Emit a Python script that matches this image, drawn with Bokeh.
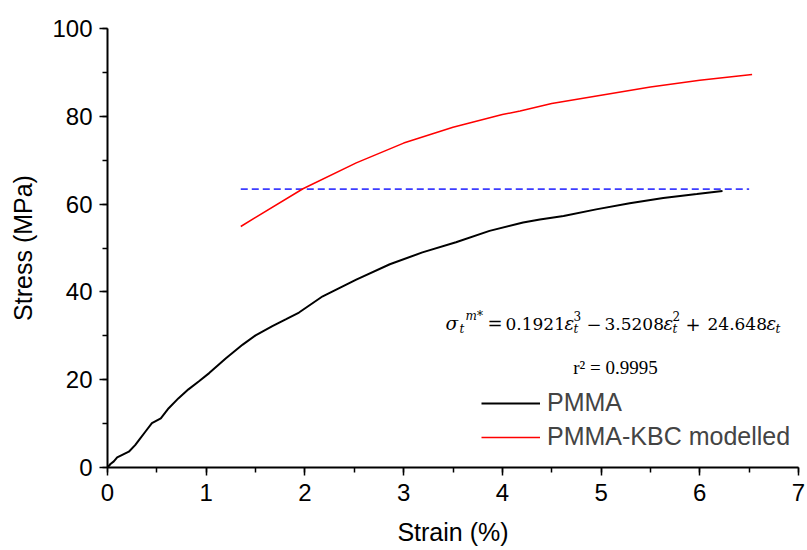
from bokeh.plotting import figure
from bokeh.models import Range1d, Label, Legend, LegendItem, FixedTicker
from bokeh.embed import file_html
from bokeh.resources import INLINE

pmma_strain = [0.0, 0.03, 0.064, 0.098, 0.16, 0.216, 0.28, 0.33, 0.385, 0.45, 0.54, 0.62, 0.72,
               0.82, 0.93, 1.03, 1.2, 1.37, 1.5, 1.67, 1.81, 1.94, 2.18, 2.52, 2.86, 3.19,
               3.53, 3.87, 4.21, 4.38, 4.62, 4.95, 5.29, 5.63, 5.97, 6.23]
pmma_stress = [0.0, 0.8, 1.4, 2.3, 3.0, 3.6, 5.1, 6.6, 8.2, 10.1, 11.2, 13.5, 15.8,
               17.8, 19.7, 21.5, 24.9, 28.0, 30.1, 32.2, 33.8, 35.3, 39.0, 42.8, 46.3, 49.0,
               51.3, 53.9, 55.8, 56.5, 57.3, 58.8, 60.2, 61.4, 62.3, 63.0]

# PMMA-KBC modelled curve
kbc_strain = [1.35, 1.98, 2.52, 3.0, 3.5, 4.0, 4.18, 4.5, 5.0, 5.5, 6.0, 6.53]
kbc_stress = [54.9, 63.5, 69.4, 73.9, 77.5, 80.4, 81.2, 82.9, 84.8, 86.7, 88.2, 89.5]

# horizontal reference line
ref_strain = [1.35, 6.5]
ref_stress = [63.4, 63.4]

x_ticks = [0, 1, 2, 3, 4, 5, 6, 7]
y_ticks = [0, 20, 40, 60, 80, 100]

# layout constants (frame in page pixels)
FL, FR, FT, FB = 107, 798, 28, 467
W, H = 807, 550

p = figure(width=W, height=H, output_backend="svg", toolbar_location=None,
           x_range=Range1d(0, 7), y_range=Range1d(0, 100),
           min_border_left=FL, min_border_right=W - FR, min_border_top=FT,
           min_border_bottom=H - FB)
p.outline_line_color = None
p.xgrid.visible = False
p.ygrid.visible = False
p.background_fill_color = "white"
p.border_fill_color = "white"

FONT = "Liberation Sans"
for ax in (p.xaxis[0], p.yaxis[0]):
    ax.axis_line_width = 2
    ax.axis_line_color = "black"
    ax.major_tick_line_width = 1.5
    ax.minor_tick_line_width = 1.5
    ax.major_tick_out = 8
    ax.major_tick_in = 0
    ax.minor_tick_out = 5
    ax.minor_tick_in = 0
    ax.major_label_text_font = FONT
    ax.major_label_text_font_size = "24px"
    ax.major_label_text_color = "black"
    ax.axis_label_text_font = FONT
    ax.axis_label_text_font_size = "25px"
    ax.axis_label_text_font_style = "normal"
    ax.axis_label_text_color = "black"

p.xaxis[0].ticker = FixedTicker(ticks=x_ticks, minor_ticks=[i * 0.5 for i in range(15)])
p.yaxis[0].ticker = FixedTicker(ticks=y_ticks, minor_ticks=[i * 10 for i in range(11)])
p.xaxis[0].axis_label = "Strain (%)"
p.yaxis[0].axis_label = "Stress (MPa)"
p.xaxis[0].major_label_standoff = 8
p.yaxis[0].major_label_standoff = 7
p.xaxis[0].axis_label_standoff = 14
p.yaxis[0].axis_label_standoff = 12

r_ref = p.line(ref_strain, ref_stress, line_color="#3c3cff", line_width=1.8, line_dash="7 4")
r_pmma = p.line(pmma_strain, pmma_stress, line_color="black", line_width=2)
r_kbc = p.line(kbc_strain, kbc_stress, line_color="red", line_width=1.5)

legend = Legend(items=[LegendItem(label="PMMA", renderers=[r_pmma]),
                       LegendItem(label="PMMA-KBC modelled", renderers=[r_kbc])],
                location=(374, 16), padding=0, margin=0, spacing=5,
                glyph_width=59, glyph_height=26, label_height=26, label_standoff=7,
                label_text_font=FONT, label_text_font_size="25px",
                border_line_color=None, background_fill_alpha=0)
p.add_layout(legend)

# equation, typeset from pieces (page-pixel placement converted to data units)
XS = (FR - FL) / 7.0
YS = (FB - FT) / 100.0


def piece(text, px, py, size, style="normal", font="DejaVu Serif", align="left"):
    p.add_layout(Label(x=(px - FL) / XS, y=(FB - py) / YS, text=text,
                       text_font=font, text_font_size=f"{size}px",
                       text_font_style=style, text_align=align,
                       text_baseline="alphabetic", text_color="black"))


BASE, SUB, SUP = 323, 328, 315
piece("σ", 445, BASE, 18.5, "italic")
piece("t", 459, SUB, 12, "italic")
piece("m*", 465, SUP, 12, "italic")
piece("=", 487, BASE, 18)
piece("0.1921", 505, BASE, 17)
piece("ε", 564, BASE, 18, "italic")
piece("3", 573, SUP, 12)
piece("t", 573, SUB, 12, "italic")
piece("−", 586, BASE, 18)
piece("3.5208", 604, BASE, 17)
piece("ε", 663, BASE, 18, "italic")
piece("2", 672, SUP, 12)
piece("t", 672, SUB, 12, "italic")
piece("+", 685, BASE, 18)
piece("24.648", 707, BASE, 17)
piece("ε", 766, BASE, 18, "italic")
piece("t", 775, SUB, 12, "italic")

piece("r² = 0.9995", 615, 367, 19, font="Liberation Serif", align="center")

open("out.html", "w").write(file_html(p, INLINE))
